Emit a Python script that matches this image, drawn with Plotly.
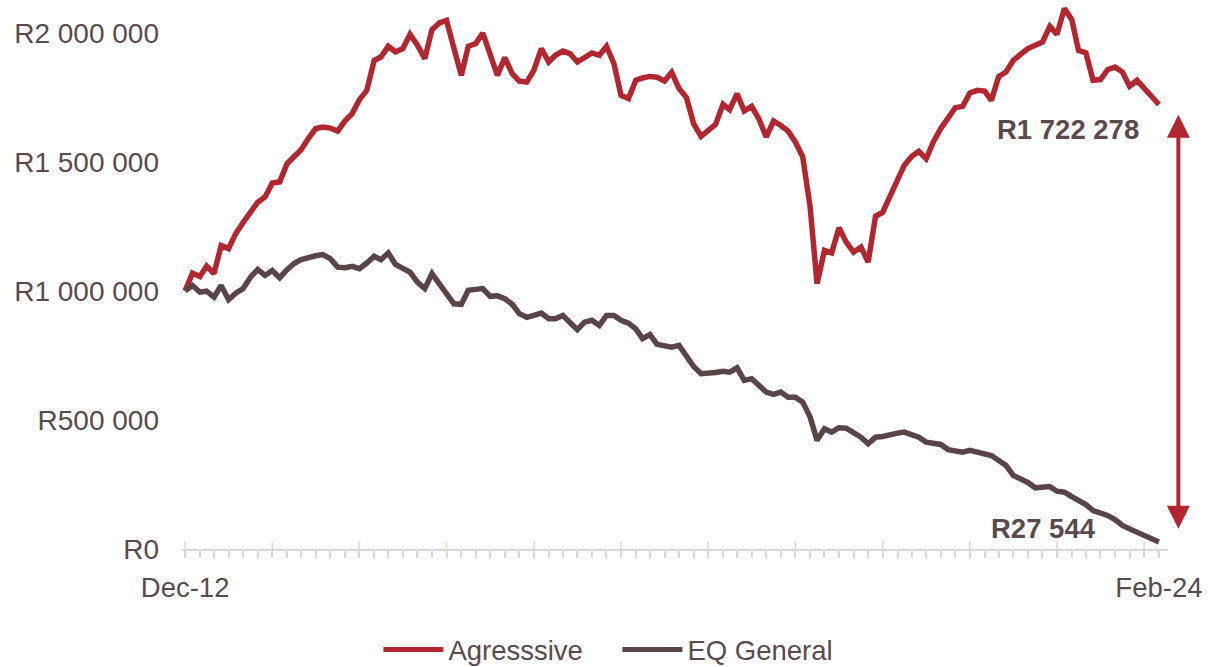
import pandas as pd
import plotly.graph_objects as go

# Monthly portfolio values (Rand), Dec-2012 to Feb-2024
months = pd.date_range("2012-12-01", "2024-02-01", freq="MS")

agresssive = [
    1000000, 1069000, 1056000, 1096000, 1067000, 1176000, 1164000, 1222000, 1265000, 1305000,
    1344000, 1364000, 1418000, 1422000, 1493000, 1519000, 1547000, 1590000, 1629000, 1635000,
    1631000, 1619000, 1658000, 1687000, 1741000, 1777000, 1893000, 1906000, 1948000, 1926000,
    1939000, 1994000, 1952000, 1900000, 2012000, 2038000, 2048000, 1940000, 1835000, 1948000,
    1958000, 1999000, 1917000, 1835000, 1904000, 1842000, 1813000, 1809000, 1855000, 1939000,
    1887000, 1913000, 1929000, 1919000, 1887000, 1902000, 1922000, 1913000, 1948000, 1881000,
    1758000, 1745000, 1816000, 1825000, 1831000, 1828000, 1813000, 1847000, 1784000, 1749000,
    1648000, 1599000, 1620000, 1645000, 1723000, 1702000, 1764000, 1697000, 1715000, 1667000,
    1596000, 1658000, 1641000, 1619000, 1577000, 1519000, 1325000, 1028000, 1157000, 1147000,
    1245000, 1189000, 1150000, 1170000, 1112000, 1289000, 1305000, 1370000, 1435000, 1486000,
    1521000, 1541000, 1512000, 1577000, 1629000, 1670000, 1710000, 1715000, 1767000, 1777000,
    1774000, 1738000, 1831000, 1848000, 1893000, 1916000, 1939000, 1952000, 1964000, 2025000,
    1994000, 2094000, 2051000, 1932000, 1922000, 1816000, 1819000, 1857000, 1867000, 1848000,
    1793000, 1816000, 1784000, 1758000, 1722278,
]

eq_general = [
    1000000, 1021000, 995000, 999000, 976000, 1021000, 966000, 991000, 1009000, 1053000,
    1083000, 1060000, 1079000, 1051000, 1082000, 1105000, 1121000, 1131000, 1136000, 1141000,
    1125000, 1092000, 1090000, 1095000, 1086000, 1108000, 1134000, 1121000, 1147000, 1103000,
    1086000, 1073000, 1034000, 1009000, 1067000, 1025000, 989000, 950000, 948000, 1002000,
    1006000, 1009000, 979000, 981000, 970000, 948000, 912000, 898000, 905000, 914000,
    892000, 892000, 905000, 879000, 850000, 879000, 886000, 866000, 905000, 905000,
    886000, 875000, 853000, 815000, 831000, 793000, 789000, 782000, 789000, 750000,
    707000, 679000, 679000, 684000, 689000, 685000, 702000, 653000, 660000, 634000,
    608000, 599000, 608000, 588000, 588000, 569000, 511000, 421000, 466000, 453000,
    470000, 468000, 453000, 433000, 408000, 433000, 436000, 440000, 449000, 453000,
    444000, 433000, 414000, 409000, 405000, 385000, 382000, 375000, 382000, 375000,
    368000, 362000, 343000, 324000, 285000, 273000, 258000, 237000, 240000, 242000,
    224000, 220000, 203000, 188000, 172000, 149000, 140000, 130000, 114000, 91000,
    78000, 65000, 50000, 35000, 27544,
]

series_names = ["Agresssive", "EQ General"]
series_colors = ["#B22630", "#594547"]

y_tick_values = [0, 500000, 1000000, 1500000, 2000000]
y_tick_labels = ["R0", "R500 000", "R1 000 000", "R1 500 000", "R2 000 000"]

x_tick_values = [months[0], months[-1]]
x_tick_labels = ["Dec-12", "Feb-24"]

end_labels = ["R1 722 278", "R27 544"]

TEXT = "#5A4A4D"
AXIS = "#DDD5D6"
FONT = "Liberation Sans, Arial, sans-serif"
FS = 27.5

fig = go.Figure()
for name, vals, col in zip(series_names, [agresssive, eq_general], series_colors):
    fig.add_trace(go.Scatter(
        x=months, y=vals, mode="lines", name=name,
        line=dict(color=col, width=5.5, shape="linear"),
        hoverinfo="skip",
    ))

# Yearly (Dec) ticks crossing the axis line
for d in pd.date_range("2012-12-01", "2023-12-01", freq="12MS"):
    fig.add_shape(type="line", xref="x", yref="paper", x0=d, x1=d, y0=-0.012, y1=0.014,
                  line=dict(color=AXIS, width=1.5), layer="below")

# Spread arrow between the two end values, just right of the last month
fig.add_annotation(
    x=1.0105, y=agresssive[-1] - 40000, ax=0, ay=eq_general[-1] + 45000,
    xref="paper", yref="y", axref="pixel", ayref="y", text="",
    showarrow=True, arrowhead=2, startarrowhead=2, arrowside="end+start",
    arrowwidth=4, arrowsize=1.15, startarrowsize=1.15, arrowcolor="#B22630",
)

# End-value labels
fig.add_annotation(x=months[-1], y=agresssive[-1], text=f"<b>{end_labels[0]}</b>",
                   showarrow=False, xref="x", yref="y", xanchor="right",
                   xshift=-18, yshift=-25,
                   font=dict(size=FS, color=TEXT, family=FONT))
fig.add_annotation(x=months[-1], y=eq_general[-1], text=f"<b>{end_labels[1]}</b>",
                   showarrow=False, xref="x", yref="y", xanchor="right",
                   xshift=-61, yshift=13,
                   font=dict(size=FS, color=TEXT, family=FONT))

fig.update_layout(
    width=1213, height=667,
    margin=dict(l=182, r=45, t=7, b=118),
    paper_bgcolor="white", plot_bgcolor="white",
    font=dict(family=FONT, size=FS, color=TEXT),
    showlegend=True,
    legend=dict(orientation="h", xref="container", x=0.509, xanchor="center",
                yref="container", y=0.026, yanchor="middle",
                font=dict(size=FS, color=TEXT), itemwidth=60,
                entrywidth=164, entrywidthmode="pixels",
                itemsizing="constant"),
    xaxis=dict(
        type="date",
        range=[months[0] - pd.Timedelta(days=13), months[-1] + pd.Timedelta(days=38)],
        tickvals=x_tick_values, ticktext=x_tick_labels,
        ticks="", showgrid=False, zeroline=False,
        showline=True, linecolor=AXIS, linewidth=1.5,
        tickfont=dict(size=FS, color=TEXT), ticklabelstandoff=13,
        minor=dict(ticks="outside", dtick="M2", tick0="2012-12-01", ticklen=7,
                   tickcolor=AXIS, tickwidth=1.5, showgrid=False),
    ),
    yaxis=dict(
        range=[0, 2100000], tickvals=y_tick_values, ticktext=y_tick_labels,
        showgrid=False, zeroline=False, showline=False, ticks="",
        tickfont=dict(size=28, color=TEXT), ticklabelstandoff=22,
    ),
)

fig.write_html("out.html")
